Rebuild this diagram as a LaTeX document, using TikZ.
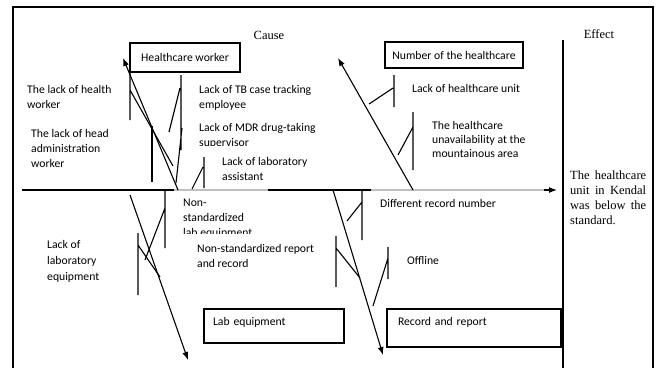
\documentclass[tikz,border=0pt]{standalone}
\usepackage{fontspec}
\setmainfont{Liberation Serif}
\newfontfamily\cbfont{Carlito}
\usepackage{tikz}
\usetikzlibrary{arrows.meta, positioning}

\tikzset{
	lbl/.style = {font=\cbfont\fontsize{11.7}{15}\selectfont, align=left, inner sep=0pt, anchor=north west},
	catbox/.style = {draw, line width=1.1pt, font=\cbfont\fontsize{11.7}{15}\selectfont, inner sep=0pt},
	bone/.style = {line width=1.1pt},
	bigbone/.style = {line width=1.1pt, -{Latex[length=8pt, width=6pt]}},
	frame/.style = {line width=2pt}
}

\begin{document}
\begin{tikzpicture}[x=1pt, y=-1pt]
					\useasboundingbox (0,0) rectangle (659,368);
					\draw[frame] (13,368) |- (653,7) -- (653,368);
					\coordinate (tail) at (22,190);
					\coordinate (head) at (557,190);
					\coordinate (efftop) at (563,40);
					\coordinate (effbot) at (563,368);
					\draw[bigbone] (tail) -- (head);
					\draw[gray!50, line width=1.1pt] (174,190) -- (268,190) (371,190) -- (544,190);
					\draw[line width=1.1pt] (efftop) -- (effbot);
					\node[font=\fontsize{12.5}{15}\selectfont] (cause) at (269,35) {Cause};
					\node[font=\fontsize{12.5}{15}\selectfont] (effect) at (599,34) {Effect};
					\node[font=\fontsize{12.5}{15}\selectfont, align=left, inner sep=0pt, anchor=north west] (result) at (570,170.5)
						{\makebox[76pt][s]{The healthcare}\\\makebox[76pt][s]{unit in Kendal}\\\makebox[76pt][s]{was below the}\\standard.};
					\node[catbox, minimum width=110pt, minimum height=29pt] (hw) at (185,57.5) {Healthcare worker};
					\node[catbox, minimum width=138pt, minimum height=26pt] (nh) at (454,55) {Number of the healthcare};
					\node[catbox, minimum width=140pt, minimum height=34pt, text width=122pt, inner xsep=9pt, text height=8pt, text depth=8.6pt] (le) at (274,326) {Lab equipment};
					\node[catbox, minimum width=174pt, minimum height=38pt, text width=152pt, inner xsep=11pt, text height=8pt, text depth=12.6pt] (rr) at (474,328) {Record and report};
					\coordinate (hwroot) at (178,190);
					\coordinate (hwtip) at (123,58);
					\coordinate (nhroot) at (413,190);
					\coordinate (nhtip) at (338,58);
					\coordinate (leroot) at (130,195);
					\coordinate (letip) at (188,360);
					\coordinate (rrroot) at (333,190);
					\coordinate (rrtip) at (383,355);
					\draw[bigbone] (hwroot) -- (hwtip);
					\draw[bigbone] (nhroot) -- (nhtip);
					\draw[bigbone] (leroot) -- (letip);
					\draw[bigbone] (rrroot) -- (rrtip);
					\draw[bone] (130,73) -- (130,120) (130,90) -- (173,166);
					\draw[bone] (152,126) -- (152,182);
					\draw[bone] (181,75) -- (181,150) (180,88) -- (169,132) (182,128) -- (176,183);
					\draw[bone] (204,157) -- (204,188) (203,167) -- (192,189);
					\draw[bone] (394,75) -- (394,107) (393,88) -- (369,104);
					\draw[bone] (413,112) -- (413,170) (413,127) -- (398,155);
					\draw[bone] (165,190) -- (165,248) (165,208) -- (145,260);
					\draw[bone] (138,233) -- (138,295) (138,245) -- (160,277);
					\draw[bone] (362,190) -- (362,240) (362,202) -- (347,221);
					\draw[bone] (336,236) -- (336,287) (336,248) -- (360,278);
					\draw[bone] (388,247) -- (388,279) (388,258) -- (373,306);
					\node[lbl] (hwlack) at (27,85) {The lack of health\\worker};
					\node[lbl] (headlack) at (31,129) {The lack of head\\administration\\worker};
					\node[lbl] (tblack) at (199,85) {Lack of TB case tracking\\employee};
					\node[lbl] (mdrlack) at (199,123) {Lack of MDR drug-taking\\supervisor};
					\fill[white] (195,145.5) rectangle (320,156);
					\node[lbl] (lablack) at (222,157) {Lack of laboratory\\assistant};
					\node[lbl] (nonstd) at (183,199) {Non-\\standardized\\lab equipment};
					\fill[white] (180,234) rectangle (330,242);
					\node[lbl] (nonrep) at (197,244) {Non-standardized report\\and record};
					\node[lbl, font=\cbfont\fontsize{11.7}{16}\selectfont] (labeq) at (47,240) {Lack of\\laboratory\\equipment};
					\node[lbl] (diffrec) at (380,199) {Different record number};
					\node[lbl] (offline) at (407,256) {Offline};
					\node[lbl] (unitlack) at (412,84) {Lack of healthcare unit};
					\node[lbl, font=\cbfont\fontsize{11.7}{14}\selectfont] (mount) at (432,121) {The healthcare\\unavailability at the\\mountainous area};
				\end{tikzpicture}
\end{document}
